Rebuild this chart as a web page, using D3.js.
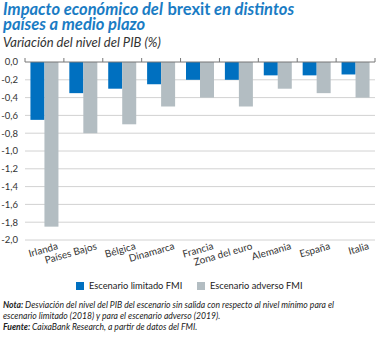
<!DOCTYPE html>
<html>
<head>
<meta charset="utf-8">
<script src="https://cdn.jsdelivr.net/npm/d3@7"></script>
<style>
  body { margin: 0; background: #fff; }
  svg { display: block; }
</style>
</head>
<body>
<div id="chart"></div>
<script>
// paises y escenarios
const countries = ["Irlanda", "Países Bajos", "Bélgica", "Dinamarca", "Francia",
                   "Zona del euro", "Alemania", "España", "Italia"];
const limitado = [-0.65, -0.35, -0.30, -0.25, -0.20, -0.20, -0.15, -0.15, -0.14];
const adverso  = [-1.85, -0.80, -0.70, -0.50, -0.40, -0.50, -0.30, -0.35, -0.40];
const seriesNames = ["Escenario limitado FMI", "Escenario adverso FMI"];
const yTicks = [0, -0.2, -0.4, -0.6, -0.8, -1.0, -1.2, -1.4, -1.6, -1.8, -2.0];

const width = 380, height = 338;
const colors = ["#0070c0", "#b3bdc2"];
const font = "Lato, sans-serif";

const svg = d3.select("#chart").append("svg")
    .attr("width", width)
    .attr("height", height)
    .style("font-family", font);

// titulo
const title = svg.append("text")
    .attr("x", 3)
    .attr("y", 15)
    .style("font-size", "16.5px")
    .style("font-weight", "bold")
    .style("font-style", "italic")
    .style("fill", "#1a7cc4");
title.append("tspan").text("Impacto económico del ");
title.append("tspan").attr("dx", 1).style("font-style", "normal").text("brexit");
title.append("tspan").text(" en distintos");

svg.append("text")
    .attr("x", 3)
    .attr("y", 30)
    .style("font-size", "16.5px")
    .style("font-weight", "bold")
    .style("font-style", "italic")
    .style("fill", "#1a7cc4")
    .text("países a medio plazo");

svg.append("text")
    .attr("x", 3)
    .attr("y", 47)
    .style("font-size", "13px")
    .style("font-style", "italic")
    .style("fill", "#333")
    .text("Variación del nivel del PIB (%)");

// escalas
const x0 = d3.scaleBand()
    .domain(countries)
    .range([25, 375])
    .paddingInner(0.28)
    .paddingOuter(0.14);

const x1 = d3.scaleBand()
    .domain([0, 1])
    .range([0, x0.bandwidth()]);

const y = d3.scaleLinear()
    .domain([-2, 0])
    .range([240, 62]);

const locale = d3.formatLocale({decimal: ",", thousands: ".", grouping: [3], currency: ["", "€"], minus: "-"});
const fmt = locale.format(".1f");

// rejilla
svg.append("g")
    .selectAll("line")
    .data(yTicks.filter(d => d !== 0))
    .enter().append("line")
    .attr("x1", 25)
    .attr("x2", 375)
    .attr("y1", d => y(d))
    .attr("y2", d => y(d))
    .style("stroke", "#d2d2d2")
    .style("stroke-width", 1);

svg.append("g")
    .selectAll("text")
    .data(yTicks)
    .enter().append("text")
    .attr("x", 18)
    .attr("y", d => y(d))
    .attr("dy", "0.35em")
    .attr("text-anchor", "end")
    .style("font-size", "9.5px")
    .style("fill", "#333")
    .text(d => fmt(d));

// barras
const groups = svg.append("g")
    .selectAll("g")
    .data(countries.map((c, i) => ({name: c, values: [limitado[i], adverso[i]]})))
    .enter().append("g")
    .attr("transform", d => "translate(" + x0(d.name) + ",0)");

groups.selectAll("rect")
    .data(d => d.values)
    .enter().append("rect")
    .attr("x", (d, i) => x1(i))
    .attr("y", y(0))
    .attr("width", x1.bandwidth())
    .attr("height", d => y(d) - y(0))
    .style("fill", (d, i) => colors[i]);

// eje del cero con marcas
svg.append("line")
    .attr("x1", 25)
    .attr("x2", 375)
    .attr("y1", y(0))
    .attr("y2", y(0))
    .style("stroke", "#777")
    .style("stroke-width", 1);

const step = x0.step();
svg.append("g")
    .selectAll("line")
    .data(d3.range(countries.length + 1))
    .enter().append("line")
    .attr("x1", i => 25 + i * step)
    .attr("x2", i => 25 + i * step)
    .attr("y1", y(0))
    .attr("y2", y(0) - 4)
    .style("stroke", "#777")
    .style("stroke-width", 1);

// etiquetas de paises
svg.append("g")
    .selectAll("text")
    .data(countries)
    .enter().append("text")
    .attr("transform", d => "translate(" + (x0(d) + x0.bandwidth()) + ",249) rotate(-16)")
    .attr("text-anchor", "end")
    .style("font-size", "10px")
    .style("fill", "#333")
    .text(d => d);

// leyenda
const legend = svg.append("g")
    .selectAll("g")
    .data(seriesNames)
    .enter().append("g")
    .attr("transform", (d, i) => "translate(" + (i === 0 ? 76 : 197) + ",282)");

legend.append("rect")
    .attr("width", 8)
    .attr("height", 8)
    .style("fill", (d, i) => colors[i]);

legend.append("text")
    .attr("x", 13)
    .attr("y", 4)
    .attr("dy", "0.35em")
    .style("font-size", "9.3px")
    .style("fill", "#222")
    .text(d => d);

// notas
const note1 = svg.append("text")
    .attr("x", 3)
    .attr("y", 308)
    .style("font-size", "8.6px")
    .style("fill", "#222");
note1.append("tspan").style("font-weight", "bold").style("font-style", "italic").text("Nota: ");
note1.append("tspan").style("font-style", "italic")
    .text("Desviación del nivel del PIB del escenario sin salida con respecto al nivel mínimo para el");

svg.append("text")
    .attr("x", 3)
    .attr("y", 319)
    .style("font-size", "8.6px")
    .style("font-style", "italic")
    .style("fill", "#222")
    .text("escenario limitado (2018) y para el escenario adverso (2019).");

const note3 = svg.append("text")
    .attr("x", 3)
    .attr("y", 330)
    .style("font-size", "8.6px")
    .style("fill", "#222");
note3.append("tspan").style("font-weight", "bold").style("font-style", "italic").text("Fuente: ");
note3.append("tspan").style("font-style", "italic").text("CaixaBank Research, a partir de datos del FMI.");
</script>
</body>
</html>
